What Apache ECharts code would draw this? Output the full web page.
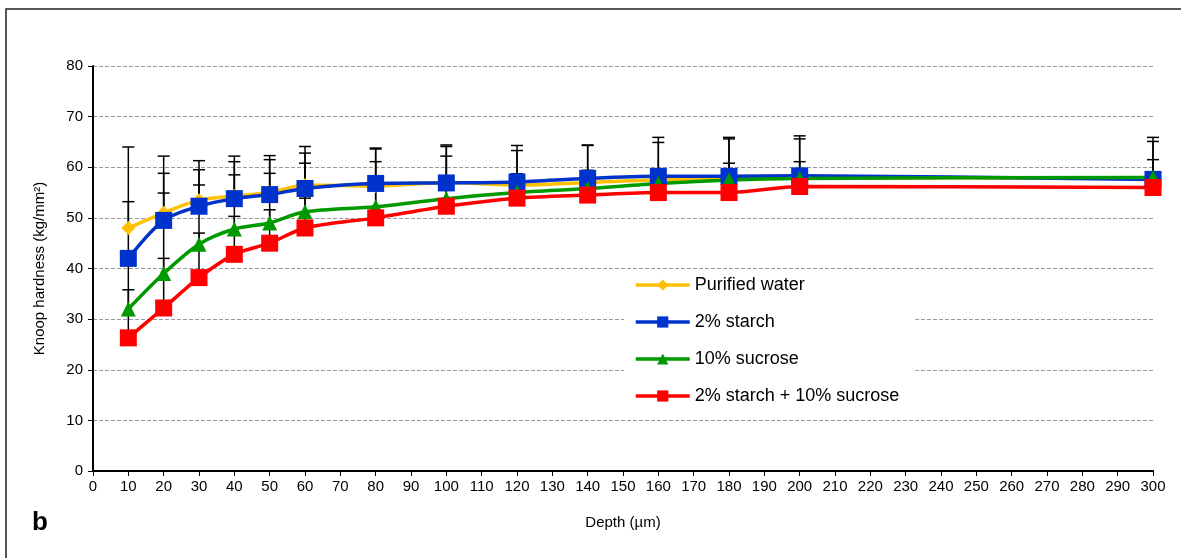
<!DOCTYPE html>
<html>
<head>
<meta charset="utf-8">
<script src="https://cdn.jsdelivr.net/npm/echarts@6/dist/echarts.min.js"></script>
<style>
  html, body { margin: 0; padding: 0; background: #fff; }
  #chart { width: 1181px; height: 558px; }
</style>
</head>
<body>
<div id="chart"></div>
<script>
// depth points (µm)
const depths = [10, 20, 30, 40, 50, 60, 80, 100, 120, 140, 160, 180, 200, 300];

// mean Knoop hardness per group
const purifiedWater = [48, 51, 53.5, 54.3, 55, 56.5, 56.3, 57, 56.5, 57, 57.5, 57.8, 58, 57.8];
const starch2 = [42, 49.5, 52.3, 53.8, 54.6, 55.8, 56.8, 56.9, 57.1, 57.8, 58.2, 58.2, 58.3, 57.6];
const sucrose10 = [32, 39, 44.8, 47.8, 49, 51.2, 52.2, 53.8, 55, 55.8, 56.8, 57.5, 57.8, 58];
const starchSucrose = [26.3, 32.2, 38.2, 42.8, 45, 48, 50, 52.3, 53.9, 54.5, 55, 55, 56.2, 56];

// upper error (SD) per group
const purifiedWaterErr = [16, 11.2, 7.8, 7.9, 7.3, 7.6, 7.5, 7.4, 7.8, 7.4, 8.4, 8.1, 8.2, 8.1];
const starch2Err = [11.2, 9.3, 7.2, 7.3, 6.9, 7.0, 6.8, 7.2, 6.2, 6.5, 6.7, 7.4, 7.3, 7.5];
const sucrose10Err = [10, 15.9, 11.7, 10.7, 9.8, 9.6, 8.9, 8.4, 3.7, 3.6, 1.7, 3.3, 3.3, 3.5];
const starchSucroseErr = [9.5, 9.8, 8.8, 7.5, 6.6, 5.9, 5.9, 4.2, 3.1, 3, 2.5, 2.5, 1.8, 2];

const yTicks = [0, 10, 20, 30, 40, 50, 60, 70, 80];

const groups = [
  { name: 'Purified water', values: purifiedWater, err: purifiedWaterErr, color: '#FFC000', symbol: 'diamond', size: 14 },
  { name: '2% starch', values: starch2, err: starch2Err, color: '#0033CC', symbol: 'rect', size: 17 },
  { name: '10% sucrose', values: sucrose10, err: sucrose10Err, color: '#009900', symbol: 'triangle', size: 15 },
  { name: '2% starch + 10% sucrose', values: starchSucrose, err: starchSucroseErr, color: '#FF0000', symbol: 'rect', size: 17 }
];

const font = 'Liberation Sans, Arial, sans-serif';

// error bar data: [depth, top, mean]
let errData = [];
groups.forEach(g => {
  depths.forEach((d, i) => {
    errData.push([d, g.values[i] + g.err[i], g.values[i]]);
  });
});

let series = [{
  type: 'custom',
  name: 'err',
  z: 1,
  silent: true,
  data: errData,
  renderItem: (params, api) => {
    let top = api.coord([api.value(0), api.value(1)]);
    let bot = api.coord([api.value(0), api.value(2)]);
    let half = 6;
    let st = { stroke: '#000', lineWidth: 1.5 };
    return {
      type: 'group',
      children: [
        { type: 'line', shape: { x1: top[0], y1: top[1], x2: bot[0], y2: bot[1] }, style: st },
        { type: 'line', shape: { x1: top[0] - half, y1: top[1], x2: top[0] + half, y2: top[1] }, style: st }
      ]
    };
  }
}];

groups.forEach(g => {
  series.push({
    type: 'line',
    name: g.name,
    z: 3,
    smooth: 0.3,
    symbol: g.symbol,
    symbolSize: g.size,
    data: depths.map((d, i) => [d, g.values[i]]),
    lineStyle: { color: g.color, width: 3.5 },
    itemStyle: { color: g.color },
    emphasis: { disabled: true }
  });
});

let chart = echarts.init(document.getElementById('chart'));
chart.setOption({
  animation: false,
  textStyle: { fontFamily: font },
  grid: { left: 93, right: 28, top: 66, bottom: 87 },
  graphic: [
    {
      type: 'rect',
      shape: { x: 6, y: 9, width: 1400, height: 800 },
      style: { fill: 'none', stroke: '#222', lineWidth: 1.5 },
      z: 0
    },
    {
      type: 'text',
      left: 32,
      top: 510,
      style: { text: 'b', font: 'bold 26px ' + font, fill: '#000' }
    }
  ],
  legend: {
    orient: 'vertical',
    left: 624,
    top: 270,
    data: groups.map(g => g.name),
    itemWidth: 54,
    itemHeight: 14,
    itemGap: 19,
    backgroundColor: '#fff',
    padding: [6, 16, 6, 10],
    lineStyle: { width: 3.5 },
    textStyle: { fontSize: 18, color: '#000', fontFamily: font }
  },
  xAxis: {
    type: 'value',
    min: 0,
    max: 300,
    interval: 10,
    name: 'Depth (µm)',
    nameLocation: 'middle',
    nameGap: 44,
    nameTextStyle: { fontSize: 15, color: '#000' },
    axisLine: { lineStyle: { color: '#000', width: 2 } },
    axisTick: { show: true, length: 5, lineStyle: { color: '#000' } },
    axisLabel: { fontSize: 15, color: '#000', margin: 8 },
    splitLine: { show: false }
  },
  yAxis: {
    type: 'value',
    min: yTicks[0],
    max: yTicks[yTicks.length - 1],
    interval: 10,
    name: 'Knoop hardness (kg/mm²)',
    nameLocation: 'middle',
    nameGap: 46,
    nameTextStyle: { fontSize: 15, color: '#000' },
    axisLine: { show: true, lineStyle: { color: '#000', width: 2 } },
    axisTick: { show: true, length: 5, lineStyle: { color: '#000' } },
    axisLabel: { fontSize: 15, color: '#000', margin: 10 },
    splitLine: { show: true, lineStyle: { color: '#999', type: [4, 2], width: 1 } }
  },
  series: series
});
</script>
</body>
</html>
